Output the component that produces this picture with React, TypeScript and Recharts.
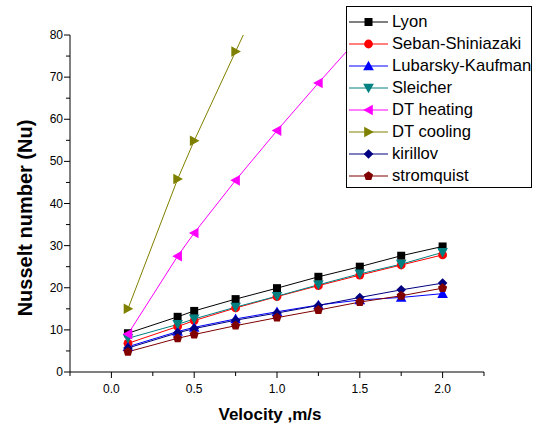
import { CartesianGrid, Label, Line, LineChart, XAxis, YAxis } from "recharts";

const velocity = [0.1, 0.4, 0.5, 0.75, 1.0, 1.25, 1.5, 1.75, 2.0];

const lyon = [9.2, 13.1, 14.5, 17.3, 19.9, 22.6, 25.0, 27.6, 29.8];
const sebanShiniazaki = [6.8, 10.8, 12.2, 15.2, 17.9, 20.5, 23.0, 25.4, 27.8];
const lubarskyKaufman = [6.0, 9.6, 10.6, 12.6, 14.3, 15.9, 17.1, 17.7, 18.6];
const sleicher = [8.0, 11.3, 12.6, 15.4, 18.0, 20.7, 23.3, 25.6, 28.4];
const dtHeating = [9.0, 27.5, 33.0, 45.5, 57.3, 68.6, 79.6, 90.0, 100.0];
const dtCooling = [15.0, 45.8, 54.9, 76.1, 97.0, 117.0, 137.0, 156.0, 175.0];
const kirillov = [5.7, 9.3, 10.3, 12.3, 14.0, 15.8, 17.7, 19.5, 21.1];
const stromquist = [4.8, 8.0, 8.9, 11.0, 12.9, 14.7, 16.6, 18.1, 19.9];

const xTicks = [-0.25, 0, 0.25, 0.5, 0.75, 1, 1.25, 1.5, 1.75, 2, 2.25];
const yTicks = [0, 5, 10, 15, 20, 25, 30, 35, 40, 45, 50, 55, 60, 65, 70, 75, 80];

type Shape = "square" | "circle" | "up" | "down" | "left" | "right" | "diamond" | "pentagon";

const series: { key: string; name: string; values: number[]; color: string; shape: Shape }[] = [
  { key: "lyon", name: "Lyon", values: lyon, color: "#000000", shape: "square" },
  { key: "seban", name: "Seban-Shiniazaki", values: sebanShiniazaki, color: "#ff0000", shape: "circle" },
  { key: "lubarsky", name: "Lubarsky-Kaufman", values: lubarskyKaufman, color: "#0000ff", shape: "up" },
  { key: "sleicher", name: "Sleicher", values: sleicher, color: "#008080", shape: "down" },
  { key: "dtHeating", name: "DT heating", values: dtHeating, color: "#ff00ff", shape: "left" },
  { key: "dtCooling", name: "DT cooling", values: dtCooling, color: "#808000", shape: "right" },
  { key: "kirillov", name: "kirillov", values: kirillov, color: "#000080", shape: "diamond" },
  { key: "stromquist", name: "stromquist", values: stromquist, color: "#800000", shape: "pentagon" },
];

const data = velocity.map((v, i) => {
  const row: Record<string, number> = { v };
  series.forEach((s) => (row[s.key] = s.values[i]));
  return row;
});

const FONT = "'Liberation Sans', Arial, sans-serif";

const Marker = ({ cx, cy, shape, color }: { cx: number; cy: number; shape: Shape; color: string }) => {
  const r = 4.8;
  let pts: number[][] = [];
  if (shape === "square") return <rect x={cx - 4} y={cy - 4} width={8} height={8} fill={color} />;
  if (shape === "circle") return <circle cx={cx} cy={cy} r={4.4} fill={color} />;
  if (shape === "up") pts = [[0, -r - 0.5], [-r - 0.5, r - 0.5], [r + 0.5, r - 0.5]];
  if (shape === "down") pts = [[0, r + 0.5], [-r - 0.5, -r + 0.5], [r + 0.5, -r + 0.5]];
  if (shape === "left") pts = [[-r - 0.5, 0], [r - 0.5, -r - 0.5], [r - 0.5, r + 0.5]];
  if (shape === "right") pts = [[r + 0.5, 0], [-r + 0.5, -r - 0.5], [-r + 0.5, r + 0.5]];
  if (shape === "diamond") pts = [[0, -r], [r, 0], [0, r], [-r, 0]];
  if (shape === "pentagon")
    pts = [0, 1, 2, 3, 4].map((k) => {
      const a = -Math.PI / 2 + (k * 2 * Math.PI) / 5;
      return [Math.cos(a) * r, Math.sin(a) * r];
    });
  return <polygon points={pts.map((p) => `${cx + p[0]},${cy + p[1]}`).join(" ")} fill={color} />;
};

const XTick = (props: any) => {
  const { x, y, payload } = props;
  const val = payload.value as number;
  const major = Math.abs(val * 2 - Math.round(val * 2)) < 1e-6 && val >= 0;
  return (
    <g>
      <line x1={x} x2={x} y1={y} y2={y + (major ? 6 : 4)} stroke="#000" />
      {major && (
        <text x={x} y={y + 21} textAnchor="middle" fontSize={12} fontFamily={FONT} fill="#000">
          {val.toFixed(1)}
        </text>
      )}
    </g>
  );
};

const YTick = (props: any) => {
  const { x, y, payload } = props;
  const val = payload.value as number;
  const major = val % 10 === 0;
  return (
    <g>
      <line x1={x} x2={x - (major ? 6 : 4)} y1={y} y2={y} stroke="#000" />
      {major && (
        <text x={x - 7} y={y + 4} textAnchor="end" fontSize={12} fontFamily={FONT} fill="#000">
          {val}
        </text>
      )}
    </g>
  );
};

const LegendBox = () => (
  <div
    style={{
      position: "absolute",
      left: 346,
      top: 6,
      width: 186,
      height: 182,
      border: "1px solid #000",
      background: "#fff",
      boxSizing: "border-box",
      paddingTop: 4,
    }}
  >
    {series.map((s) => (
      <div key={s.key} style={{ display: "flex", alignItems: "center", height: 22 }}>
        <svg width={45} height={22} style={{ flexShrink: 0 }}>
          <line x1={2} x2={41} y1={11} y2={11} stroke={s.color} strokeWidth={1} />
          <Marker cx={21.5} cy={11} shape={s.shape} color={s.color} />
        </svg>
        <span style={{ fontFamily: FONT, fontSize: 16.6, color: "#000", whiteSpace: "nowrap" }}>{s.name}</span>
      </div>
    ))}
  </div>
);

export default function App() {
  return (
    <div style={{ position: "absolute", left: 0, top: 0, width: 536, height: 427, background: "#fff" }}>
      <LineChart width={536} height={427} data={data} margin={{ top: 35, right: 52, left: 0, bottom: 0 }}>
        <CartesianGrid stroke="none" />
        <XAxis
          dataKey="v"
          type="number"
          domain={[-0.25, 2.25]}
          ticks={xTicks}
          allowDataOverflow
          height={55}
          stroke="#000"
          tickLine={false}
          tickSize={0}
          tickMargin={0}
          tick={<XTick />}
          interval={0}
        >
          <Label
            content={() => (
              <text x={270} y={420} textAnchor="middle" fontSize={17} fontWeight="bold" fontFamily={FONT} fill="#000">
                Velocity ,m/s
              </text>
            )}
          />
        </XAxis>
        <YAxis
          type="number"
          domain={[0, 80]}
          ticks={yTicks}
          allowDataOverflow
          width={70}
          stroke="#000"
          tickLine={false}
          tickSize={0}
          tickMargin={0}
          tick={<YTick />}
          interval={0}
        >
          <Label
            content={() => (
              <text
                x={32}
                y={218}
                transform="rotate(-90 32 218)"
                textAnchor="middle"
                fontSize={20}
                fontWeight="bold"
                fontFamily={FONT}
                fill="#000"
              >
                Nusselt number (Nu)
              </text>
            )}
          />
        </YAxis>
        {series.map((s) => (
          <Line
            key={s.key}
            dataKey={s.key}
            name={s.name}
            stroke={s.color}
            strokeWidth={1}
            isAnimationActive={false}
            dot={(p: any) => <Marker key={`${s.key}-${p.index}`} cx={p.cx} cy={p.cy} shape={s.shape} color={s.color} />}
            activeDot={false}
          />
        ))}
      </LineChart>
      <LegendBox />
    </div>
  );
}
